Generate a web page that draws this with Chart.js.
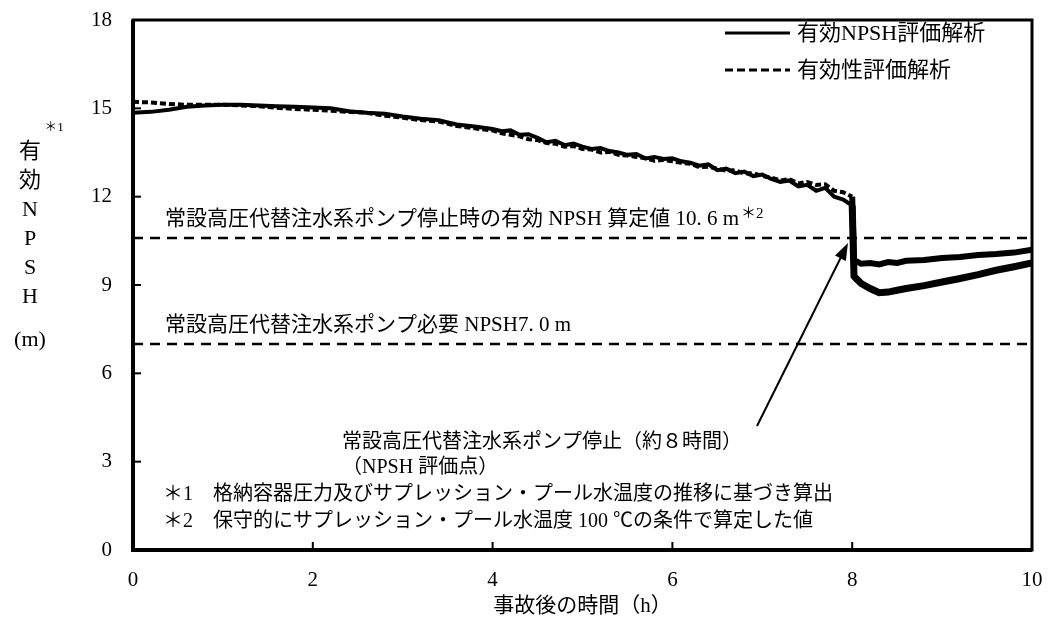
<!DOCTYPE html>
<html>
<head>
<meta charset="utf-8">
<script src="https://cdn.jsdelivr.net/npm/chart.js@4.4.0/dist/chart.umd.min.js"></script>
<style>
html, body { margin: 0; padding: 0; background: #fff; }
#wrap { width: 1051px; height: 623px; }
</style>
</head>
<body>
<div id="wrap"><canvas id="npsh"></canvas></div>
<script>
// 時間 (h)
const hours = [0,0.2,0.4,0.6,0.8,1.0,1.2,1.4,1.6,1.8,2.0,2.2,2.4,2.6,2.8,3.0,3.2,3.4,3.6,3.8,4.0,
  4.1,4.2,4.3,4.4,4.5,4.6,4.7,4.8,4.9,5.0,5.1,5.2,5.3,5.4,5.5,5.6,5.7,5.8,5.9,6.0,
  6.1,6.2,6.3,6.4,6.5,6.6,6.7,6.8,6.9,7.0,7.1,7.2,7.3,7.4,7.5,7.6,7.7,7.8,7.9,8.0,
  8.02,8.05,8.1,8.2,8.3,8.4,8.5,8.6,8.8,9.0,9.2,9.4,9.6,9.8,10.0];
// 有効NPSH評価解析
const npshEval = [14.85,14.88,14.95,15.05,15.1,15.12,15.12,15.1,15.07,15.05,15.03,15.0,14.9,14.85,14.82,14.72,14.65,14.6,14.45,14.38,14.3,
  14.22,14.25,14.1,14.12,14.0,13.85,13.9,13.75,13.8,13.7,13.62,13.65,13.55,13.5,13.42,13.45,13.3,13.35,13.28,13.3,
  13.2,13.15,13.05,13.1,12.9,12.95,12.8,12.85,12.7,12.75,12.6,12.5,12.55,12.35,12.4,12.2,12.3,12.0,11.9,11.7,
  9.3,9.2,9.05,8.88,8.74,8.76,8.82,8.88,8.98,9.1,9.22,9.35,9.5,9.62,9.75];
// 有効性評価解析
const effEval = [15.22,15.2,15.15,15.12,15.12,15.12,15.1,15.07,15.02,14.98,14.95,14.92,14.88,14.85,14.75,14.68,14.6,14.55,14.4,14.32,14.25,
  14.15,14.1,14.05,13.95,13.92,13.82,13.8,13.7,13.72,13.62,13.6,13.5,13.52,13.42,13.4,13.35,13.3,13.22,13.25,13.2,
  13.15,13.12,13.0,13.02,12.95,12.88,12.9,12.78,12.8,12.7,12.65,12.55,12.6,12.45,12.5,12.4,12.42,12.2,12.15,12.0,
  9.75,9.8,9.72,9.75,9.7,9.78,9.75,9.82,9.85,9.92,9.95,10.02,10.05,10.1,10.2];
const refLines = [10.6, 7.0];
const xTicks = [0,2,4,6,8,10];
const yTicks = [0,3,6,9,12,15,18];
const seriesNames = ['有効NPSH評価解析', '有効性評価解析'];

const FONT = "'Liberation Serif','Noto Sans CJK JP',serif";

const pts = (ys) => hours.map((h, i) => ({x: h, y: ys[i]}));
const flat = (v) => [{x: xTicks[0], y: v}, {x: xTicks[xTicks.length - 1], y: v}];

const decor = {
  id: 'decor',
  afterDraw(chart) {
    const ctx = chart.ctx;
    const ca = chart.chartArea;
    const xs = chart.scales.x, ys = chart.scales.y;
    ctx.save();
    ctx.strokeStyle = '#000';
    ctx.fillStyle = '#000';
    // 枠
    ctx.lineWidth = 3;
    ctx.strokeRect(ca.left, ca.top, ca.right - ca.left, ca.bottom - ca.top);
    ctx.lineWidth = 4;
    ctx.beginPath();
    ctx.moveTo(ca.left, ca.top); ctx.lineTo(ca.left, ca.bottom); ctx.lineTo(ca.right, ca.bottom);
    ctx.stroke();
    // 内向き目盛
    ctx.lineWidth = 2;
    yTicks.slice(1, -1).forEach(v => {
      const y = ys.getPixelForValue(v);
      ctx.beginPath(); ctx.moveTo(ca.left, y); ctx.lineTo(ca.left + 8, y); ctx.stroke();
    });
    xTicks.slice(1, -1).forEach(v => {
      const x = xs.getPixelForValue(v);
      ctx.beginPath(); ctx.moveTo(x, ca.bottom); ctx.lineTo(x, ca.bottom - 8); ctx.stroke();
    });
    // 縦軸タイトル
    ctx.textAlign = 'center';
    ctx.textBaseline = 'middle';
    ctx.font = '22px ' + FONT;
    ['有', '効', 'N', 'P', 'S', 'H'].forEach((c, i) => ctx.fillText(c, 30, 152 + i * 29));
    ctx.fillText('(m)', 30, 340);
    ctx.font = '13px ' + FONT;
    ctx.fillText('＊1', 54, 128);
    // 凡例
    ctx.lineWidth = 3;
    ctx.beginPath(); ctx.moveTo(725, 33); ctx.lineTo(790, 33); ctx.stroke();
    ctx.setLineDash([8, 4]);
    ctx.beginPath(); ctx.moveTo(725, 70); ctx.lineTo(790, 70); ctx.stroke();
    ctx.setLineDash([]);
    ctx.textAlign = 'left';
    ctx.font = '22px ' + FONT;
    ctx.fillText(seriesNames[0], 797, 34);
    ctx.fillText(seriesNames[1], 797, 71);
    // 基準線ラベル
    ctx.font = '21px ' + FONT;
    const t1 = '常設高圧代替注水系ポンプ停止時の有効 NPSH 算定値 10. 6 m';
    const y1 = ys.getPixelForValue(refLines[0]) - 18;
    ctx.fillText(t1, 165, y1);
    const w1 = ctx.measureText(t1).width;
    ctx.font = '15px ' + FONT;
    ctx.fillText('＊2', 165 + w1 + 2, y1 - 6);
    ctx.font = '21px ' + FONT;
    ctx.fillText('常設高圧代替注水系ポンプ必要 NPSH7. 0 m', 165, ys.getPixelForValue(refLines[1]) - 18);
    // 注記と矢印
    ctx.font = '20px ' + FONT;
    ctx.fillText('常設高圧代替注水系ポンプ停止（約８時間）', 342, 443);
    ctx.fillText('（NPSH 評価点）', 342, 468);
    const tx = 848, ty = 243, sx = 757, sy = 426;
    const ang = Math.atan2(ty - sy, tx - sx);
    ctx.lineWidth = 2;
    ctx.beginPath(); ctx.moveTo(sx, sy); ctx.lineTo(tx - 10 * Math.cos(ang), ty - 10 * Math.sin(ang)); ctx.stroke();
    ctx.beginPath();
    ctx.moveTo(tx, ty);
    ctx.lineTo(tx - 17 * Math.cos(ang) + 6 * Math.sin(ang), ty - 17 * Math.sin(ang) - 6 * Math.cos(ang));
    ctx.lineTo(tx - 17 * Math.cos(ang) - 6 * Math.sin(ang), ty - 17 * Math.sin(ang) + 6 * Math.cos(ang));
    ctx.closePath(); ctx.fill();
    // 脚注
    ctx.fillText('＊1　格納容器圧力及びサプレッション・プール水温度の推移に基づき算出', 163, 495);
    ctx.fillText('＊2　保守的にサプレッション・プール水温度 100 ℃の条件で算定した値', 163, 522);
    ctx.restore();
  }
};

new Chart(document.getElementById('npsh'), {
  type: 'line',
  data: {
    datasets: [
      {
        label: seriesNames[0], data: pts(npshEval), borderColor: '#000', borderWidth: 4,
        pointRadius: 0, tension: 0,
        segment: { borderWidth: c => c.p0.parsed.x >= 8 ? 7 : 4 }
      },
      {
        label: seriesNames[1], data: pts(effEval), borderColor: '#000', borderWidth: 4,
        borderDash: [6, 3], pointRadius: 0, tension: 0,
        segment: {
          borderDash: c => c.p0.parsed.x >= 8 ? [] : [6, 3],
          borderWidth: c => c.p0.parsed.x >= 8 ? 6 : 4
        }
      },
      { label: 'ref1', data: flat(refLines[0]), borderColor: '#000', borderWidth: 2.5, borderDash: [10, 7], pointRadius: 0 },
      { label: 'ref2', data: flat(refLines[1]), borderColor: '#000', borderWidth: 2.5, borderDash: [10, 7], pointRadius: 0 }
    ]
  },
  options: {
    responsive: true,
    maintainAspectRatio: false,
    animation: false,
    layout: { padding: { top: 20, right: 19, left: 0, bottom: 0 } },
    plugins: { legend: { display: false }, tooltip: { enabled: false } },
    scales: {
      x: {
        type: 'linear', min: 0, max: 10,
        afterBuildTicks: s => { s.ticks = xTicks.map(v => ({value: v})); },
        afterFit: s => { s.height = 73; s.paddingLeft = 0; s.paddingRight = 0; },
        grid: { display: false, drawTicks: false },
        border: { display: false },
        ticks: { padding: 18, color: '#000', font: { family: FONT, size: 21 }, maxRotation: 0 },
        title: { display: true, text: '事故後の時間（h）', color: '#000', font: { family: FONT, size: 21 }, padding: { top: 0, bottom: 4 } }
      },
      y: {
        type: 'linear', min: 0, max: 18,
        afterBuildTicks: s => { s.ticks = yTicks.map(v => ({value: v})); },
        afterFit: s => { s.width = 133; s.paddingTop = 0; s.paddingBottom = 0; },
        grid: { display: false, drawTicks: false },
        border: { display: false },
        ticks: { padding: 21, color: '#000', font: { family: FONT, size: 21 } }
      }
    }
  },
  plugins: [decor]
});
</script>
</body>
</html>
